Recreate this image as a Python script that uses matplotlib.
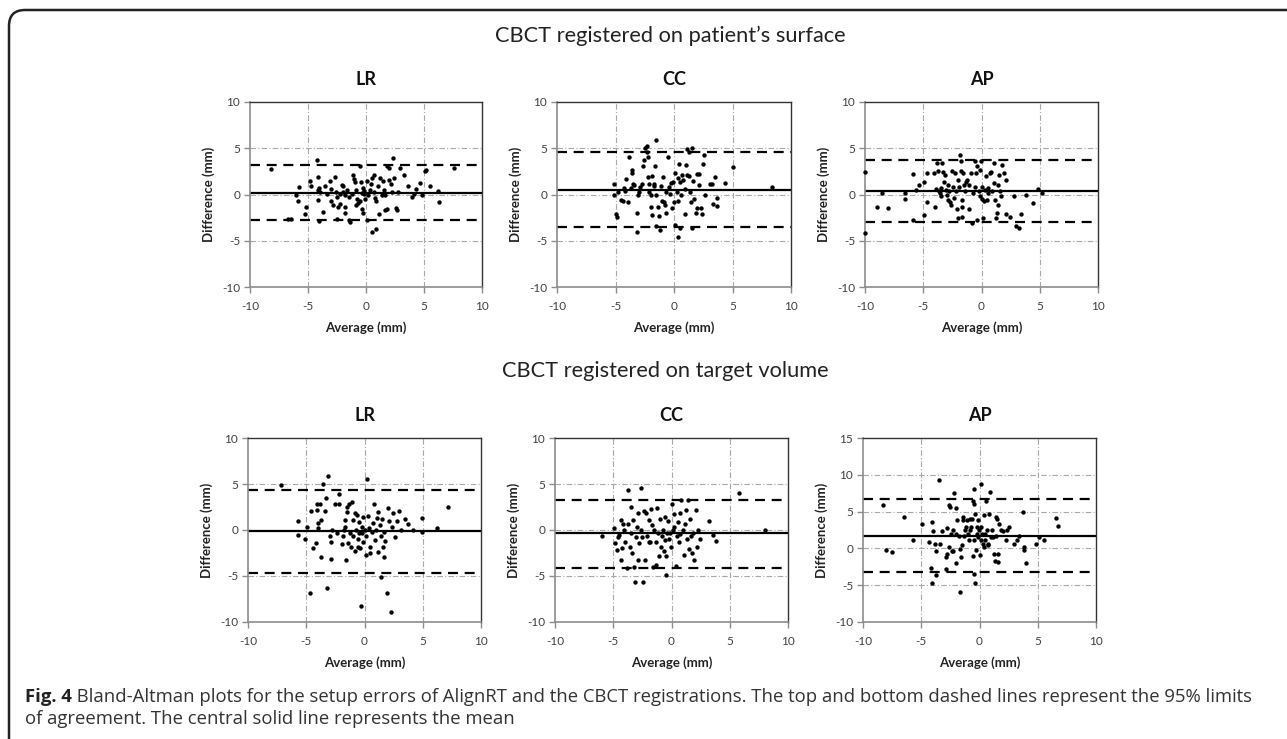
import matplotlib
matplotlib.use("Agg")
import matplotlib.pyplot as plt
from matplotlib.path import Path
from matplotlib.patches import PathPatch
from matplotlib.transforms import Affine2D

# ---- data (Average, Difference) ----
top_lr_x = [-8.2, -6.75, -6.5, -5.8, -6.0, -5.85, -5.2, -5.25, -4.8, -4.75, -4.25, -4.15, -4.05, -4.1, -3.95,
            -4.15, -4.05, -3.75, -3.5, -3.35, -3.1, -3.0, -3.0, -2.65, -2.55, -2.5, -2.85, -2.45, -2.5, -2.2,
            -2.05, -1.95, -1.95, -1.8, -2.25, -1.85, -1.8, -1.5, -1.4, -1.25, -1.1, -1.05, -0.95, -0.9, -0.85,
            -0.75, -0.65, -0.55, -0.55, -0.35, -0.3, -0.2, -0.15, -0.1, -0.35, -0.3, 0.1, 0.5, 0.9, 0.05,
            0.45, 0.65, 0.7, 0.8, 1.0, 0.85, 1.1, 1.2, 1.45, 1.55, 1.65, 1.6, 1.8, 1.85, 2.0,
            2.0, 2.15, 2.25, 2.4, 2.35, 2.6, 2.65, 2.75, 2.95, 3.3, 3.65, 4.0, 4.15, 4.3, 4.65,
            4.8, 5.1, 5.15, 5.5, 6.2, 6.3, 7.55, -1.65, -1.5, -0.45, 0.2, 0.35, 1.35, 0.5]
top_lr_y = [2.75, -2.6, -2.65, 0.8, 0.0, -0.7, -1.35, -2.1, 1.45, 0.95, 3.7, 1.9, 0.7, 0.45, 0.3,
            -0.55, -2.9, -1.85, 0.95, 0.05, 1.45, 0.6, -0.7, 1.9, 0.3, -0.25, -1.1, -1.3, -2.65, 0.05,
            1.0, 0.95, 0.3, 0.0, -1.05, -1.35, -2.05, -2.75, -2.95, 0.05, 2.1, 1.7, 1.3, 0.45, -1.15,
            -0.45, -0.9, -0.65, 3.05, 0.2, 0.7, 0.35, 0.05, -0.45, -1.6, -2.0, -2.8, -4.05, -3.7, 1.5,
            1.15, 2.15, 0.3, -0.35, 0.9, -0.7, -2.1, 1.75, 1.45, 0.45, -0.05, -1.7, -1.6, 3.1, 2.9,
            1.55, 1.1, 0.3, 1.75, 4.0, -1.45, -1.65, 0.3, 2.9, 2.15, 0.95, -0.3, 0.05, 0.6, 1.25,
            0.0, 2.5, 2.6, 0.95, 0.4, -0.85, 2.85, 0.45, -0.25, 1.35, -0.05, 0.45, -0.05, 1.75]

top_cc_x = [-5.1, -5.15, -5.0, -4.9, -4.75, -4.55, -4.4, -4.25, -4.15, -4.1, -3.9, -3.85, -3.65, -3.55, -3.55,
            -3.5, -3.4, -3.15, -3.15, -3.05, -2.95, -2.9, -2.75, -2.65, -2.6, -2.45, -2.35, -2.35, -2.25, -2.2,
            -2.15, -2.1, -2.0, -1.95, -1.9, -1.85, -1.75, -1.7, -1.6, -1.55, -1.5, -1.4, -1.5, -1.2, -1.3,
            -1.1, -1.05, -0.95, -0.85, -0.75, -0.7, -0.65, -0.55, -0.4, -0.3, -0.25, -0.15, -0.1, 0.0, 0.05,
            0.1, 0.25, 0.3, 0.35, 0.35, 0.45, 0.5, 0.55, 0.6, 0.7, 0.8, 0.9, 0.95, 1.05, 1.1,
            1.15, 1.25, 1.3, 1.35, 1.45, 1.55, 1.5, 1.65, 1.75, 1.85, 1.95, 2.0, 2.1, 2.15, 2.3,
            2.4, 2.55, 2.45, 2.65, 3.1, 3.25, 3.3, 3.5, 3.65, 3.65, 4.35, 5.05, 8.35]
top_cc_y = [1.1, 0.0, -2.15, -2.4, 0.3, -0.6, -0.7, 0.65, 0.4, 1.65, -0.85, 4.05, 0.65, 2.35, 2.65,
            1.15, 1.0, -1.95, -4.05, -0.05, 0.3, 0.8, 1.1, 3.05, 3.7, 5.0, 5.25, 4.6, 1.9, 4.1,
            0.3, 1.1, -1.3, -0.05, -2.25, 1.95, 0.9, 1.1, 3.1, 5.85, -0.05, -1.35, -3.4, -3.85, -2.3,
            0.95, -0.65, 1.9, -0.85, -1.1, 0.3, -1.95, 4.1, 0.8, 0.05, 1.25, -1.5, 1.3, -0.85, 2.35,
            -3.25, 0.3, -0.7, 1.8, -4.6, 3.35, -3.6, 1.3, 0.0, 2.1, 1.6, 0.6, -2.15, 3.2, 4.9,
            2.15, 1.95, 4.6, 0.3, -0.85, 5.0, -3.6, 1.45, -0.45, -2.05, 2.25, -1.5, 2.25, 1.0, -1.5,
            -2.15, 4.25, 3.35, -0.05, 1.1, 1.1, -1.0, 1.9, -0.35, -1.25, 1.2, 2.95, 0.8]

top_ap_x = [-10.0, -10.0, -8.95, -8.5, -8.05, -6.55, -6.55, -5.9, -5.9, -5.6, -5.35, -4.95, -4.95, -4.65, -4.65,
            -4.05, -4.0, -3.9, -3.85, -3.75, -3.65, -3.55, -3.5, -3.45, -3.4, -3.3, -3.2, -3.1, -3.05, -3.0,
            -2.9, -2.85, -2.75, -2.7, -2.6, -2.5, -2.45, -2.4, -2.25, -2.2, -2.1, -2.05, -2.0, -1.9, -1.85,
            -1.8, -1.8, -1.7, -1.7, -1.65, -1.55, -1.5, -1.4, -1.3, -1.25, -1.1, -1.05, -0.9, -0.85, -0.7,
            -0.6, -0.55, -0.45, -0.4, -0.35, -0.25, -0.15, -0.1, -0.05, 0.0, 0.05, 0.15, 0.25, 0.3, 0.4,
            0.45, 0.55, 0.6, 0.7, 0.8, 0.9, 1.05, 1.1, 1.15, 1.25, 1.3, 1.4, 1.45, 1.5, 1.6,
            1.7, 1.75, 1.95, 2.1, 2.1, 2.45, 2.8, 2.95, 3.2, 3.35, 3.8, 4.45, 4.85, 5.2]
top_ap_y = [2.4, -4.2, -1.35, 0.2, -1.5, 0.2, -0.5, 2.25, -2.8, 0.5, 1.05, 1.4, -2.2, 2.3, -0.85,
            2.3, -1.3, 0.6, 3.45, 2.5, 0.35, 0.15, 0.7, -0.2, 3.45, 2.4, 1.3, 2.15, 0.5, -0.05,
            -0.6, 1.05, 0.4, -0.85, -1.1, 2.5, 0.85, -0.4, 2.3, 0.35, -1.6, -2.5, 1.6, 0.85, 4.25,
            3.6, 2.5, -0.6, -1.3, -2.4, 2.3, 1.05, 0.35, 1.4, 1.6, 1.05, -1.6, 2.3, -3.1, 0.15,
            0.85, 3.6, 2.3, -2.75, 3.05, 0.35, -0.2, 2.7, 3.6, 0.85, -0.45, -2.55, -0.75, 0.5, 1.95,
            -0.6, 0.15, 0.7, 2.3, 2.4, 0.35, 1.25, 3.4, -0.6, -2.55, -2.05, 1.05, -1.1, 2.15, 0.35,
            -0.2, 3.15, 2.3, 1.6, -2.15, -2.4, -0.15, -3.4, -3.65, -2.15, -0.05, -0.95, 0.6, 0.2]

bot_lr_x = [-7.15, -5.7, -5.7, -5.1, -4.9, -4.65, -4.55, -4.45, -4.2, -4.1, -4.1, -4.0, -3.95, -3.8, -3.75,
            -3.75, -3.55, -3.35, -3.3, -3.2, -3.15, -3.0, -2.85, -2.85, -2.8, -2.5, -2.35, -2.2, -2.15, -1.95,
            -1.85, -1.8, -1.7, -1.65, -1.6, -1.5, -1.5, -1.45, -1.35, -1.25, -1.15, -1.05, -1.0, -0.95, -0.85,
            -0.8, -0.7, -0.65, -0.6, -0.55, -0.5, -0.45, -0.35, -0.3, -0.25, -0.2, -0.15, -0.1, 0.0, 0.1,
            0.15, 0.25, 0.3, 0.35, 0.45, 0.5, 0.65, 0.7, 0.85, 0.9, 1.0, 1.05, 1.15, 1.2, 1.3,
            1.4, 1.45, 1.5, 1.6, 1.65, 1.7, 1.8, 1.95, 2.0, 2.1, 2.25, 2.35, 2.45, 2.6, 2.75,
            3.0, 3.15, 3.45, 3.7, 4.15, 4.9, 4.95, 6.25, 7.2]
bot_lr_y = [4.85, 1.0, -0.55, -1.0, 0.3, -6.8, 2.1, -2.0, -1.45, 2.15, 2.8, 0.8, 0.25, 2.8, 1.05,
            -2.95, 5.0, 2.1, 3.5, -6.35, 5.85, -0.7, -1.25, -3.2, -0.05, 2.8, -0.35, 2.8, 3.95, -1.5,
            -0.7, 0.05, 1.1, 0.35, -3.25, 2.45, 2.0, -1.45, 2.8, -0.35, -1.8, 3.05, 1.1, -0.7, 1.8,
            -2.25, 0.0, 1.6, -1.0, -1.8, 0.9, -0.35, -2.0, -8.25, 0.35, -0.35, 1.45, -1.25, 0.0, -2.7,
            -0.7, 5.5, 1.5, 0.2, -1.8, -2.55, -0.25, 0.8, 2.8, -1.1, 0.0, 1.35, -2.35, 2.0, 0.5,
            -0.7, -5.15, 1.25, -1.8, -2.9, -0.2, -1.15, -6.8, 2.35, 1.0, -8.9, 0.35, 1.8, -0.8, 1.0,
            2.1, 0.0, 1.25, 0.6, 0.0, 1.35, -0.25, 0.25, 2.45]

bot_cc_x = [-6.0, -4.9, -4.85, -4.7, -4.6, -4.5, -4.35, -4.3, -4.25, -4.15, -4.05, -3.95, -3.8, -3.75, -3.7,
            -3.6, -3.5, -3.45, -3.35, -3.3, -3.2, -3.1, -3.05, -2.95, -2.9, -2.85, -2.75, -2.65, -2.6, -2.5,
            -2.45, -2.35, -2.3, -2.2, -2.1, -1.95, -1.9, -1.85, -1.75, -1.7, -1.55, -1.5, -1.35, -1.3, -1.25,
            -1.15, -1.05, -1.0, -0.9, -0.8, -0.7, -0.65, -0.6, -0.55, -0.5, -0.45, -0.35, -0.3, -0.2, -0.1,
            -0.05, 0.05, 0.15, 0.2, 0.25, 0.35, 0.45, 0.55, 0.65, 0.7, 0.75, 0.85, 0.95, 1.05, 1.15,
            1.25, 1.3, 1.45, 1.5, 1.55, 1.65, 1.75, 1.85, 1.95, 2.1, 2.15, 2.25, 2.45, 3.25, 3.55,
            3.85, 5.8, 8.0]
bot_cc_y = [-0.6, 0.2, -1.45, -2.15, -0.8, -0.55, 1.1, -3.25, -2.0, 0.7, 0.0, -1.25, -4.15, 0.65, 4.35,
            -1.9, 2.45, -0.35, -2.45, 1.1, -4.05, -5.6, -0.8, 0.3, 1.8, -3.25, -1.45, 4.6, 0.0, -0.8,
            -5.6, 2.1, -3.25, 1.8, -0.65, 1.1, -1.35, -1.25, 2.25, 0.55, -4.05, 0.0, -3.8, -1.35, 2.35,
            -0.35, -2.8, 1.25, -1.8, -0.7, 0.0, -2.25, 1.45, -1.1, -4.85, -2.8, -0.3, 1.0, -1.0, -0.35,
            -1.8, 2.8, 0.0, 0.35, 1.75, -3.95, -0.7, 0.9, -1.25, 1.8, -0.45, 3.3, 0.0, -2.7, 0.65,
            2.15, -1.0, 3.3, -2.1, 1.25, -0.7, -2.55, -0.35, -3.25, 2.15, -1.8, 0.0, -1.0, 1.0, -0.55,
            -1.15, 4.05, 0.0]

bot_ap_x = [-8.25, -8.05, -7.55, -6.45, -5.75, -4.9, -4.3, -4.15, -4.05, -4.05, -3.95, -3.85, -3.7, -3.7, -3.45,
            -3.4, -3.25, -2.9, -2.9, -2.8, -2.75, -2.65, -2.6, -2.5, -2.45, -2.4, -2.3, -2.25, -2.15, -2.05,
            -2.0, -2.0, -1.9, -1.8, -1.7, -1.65, -1.55, -1.5, -1.45, -1.4, -1.3, -1.25, -1.15, -1.1, -1.0,
            -0.9, -0.85, -0.8, -0.75, -0.65, -0.6, -0.55, -0.5, -0.5, -0.45, -0.45, -0.4, -0.35, -0.3, -0.25,
            -0.25, -0.15, -0.1, -0.05, 0.05, 0.1, 0.1, 0.15, 0.2, 0.3, 0.35, 0.4, 0.45, 0.5, 0.55,
            0.65, 0.7, 0.75, 0.85, 0.9, 0.95, 1.05, 1.15, 1.25, 1.3, 1.4, 1.45, 1.5, 1.55, 1.6,
            1.7, 1.85, 2.05, 2.25, 2.35, 2.5, 3.0, 3.2, 3.35, 3.7, 3.8, 3.85, 4.0, 4.85, 5.15,
            5.55, 6.6, 6.75]
bot_ap_y = [5.9, -0.25, -0.5, 4.25, 1.2, 3.35, 0.85, -2.6, 3.55, -4.7, 2.35, 0.65, -0.35, -3.55, 9.35,
            0.65, 2.35, -1.2, -2.75, -0.7, 2.8, 5.85, 0.2, 5.6, 2.0, -0.35, -0.35, 2.45, 7.55, -2.0,
            5.45, 2.0, 3.8, 1.75, -5.95, -0.05, -1.2, 0.4, 3.8, 4.25, 1.75, 2.45, 2.9, 3.8, 2.0,
            1.1, 4.05, 2.45, 2.9, 4.05, -1.1, 6.5, 6.05, 8.1, -3.45, 1.1, -4.7, 4.7, -0.2, 2.0,
            2.9, 3.8, 1.55, 2.45, -0.95, 1.1, 2.9, 8.7, 2.0, 0.65, 4.5, 0.2, 2.0, 1.1, 6.5,
            2.45, 0.65, 0.4, 4.7, 7.6, 1.55, 2.45, 1.55, -0.7, -1.65, 4.25, 1.65, 4.05, -1.85, -0.7,
            3.25, 2.45, 2.35, 1.1, 2.45, 2.9, 0.65, 1.1, 1.75, 4.95, -0.2, 0.25, -2.0, 0.65, 1.55,
            1.2, 4.15, 3.1]

panel_names = ["LR", "CC", "AP", "LR", "CC", "AP"]
panel_x = [top_lr_x, top_cc_x, top_ap_x, bot_lr_x, bot_cc_x, bot_ap_x]
panel_y = [top_lr_y, top_cc_y, top_ap_y, bot_lr_y, bot_cc_y, bot_ap_y]
panel_mean = [0.15, 0.45, 0.36, -0.11, -0.36, 1.67]
panel_upper = [3.15, 4.57, 3.69, 4.37, 3.29, 6.7]
panel_lower = [-2.8, -3.55, -2.97, -4.62, -4.12, -3.21]
panel_ymax = [10, 10, 10, 10, 10, 15]

section_titles = ["CBCT registered on patient\u2019s surface", "CBCT registered on target volume"]
caption_bold = "Fig. 4"
caption_line1 = (" Bland-Altman plots for the setup errors of AlignRT and the CBCT registrations. "
                 "The top and bottom dashed lines represent the 95% limits")
caption_line2 = "of agreement. The central solid line represents the mean"

W, H = 1287, 739
plt.rcParams['font.family'] = ['Lato', 'DejaVu Sans']
plt.rcParams['axes.unicode_minus'] = False
fig = plt.figure(figsize=(W / 100, H / 100), dpi=100)


def fx(x):
    return x / W


def fy(y):
    return 1 - y / H


# panel boxes in pixels: left, right, top, bottom
boxes = [(250, 482, 102, 287), (557, 791, 102, 287), (865, 1098, 102, 287),
         (248, 481, 438, 622), (555, 788, 438, 622), (863, 1096, 438, 622)]

for i in range(6):
    l, r, t, b = boxes[i]
    ax = fig.add_axes([fx(l), fy(b), (r - l) / W, (b - t) / H])
    ymax = panel_ymax[i]
    ax.set_xlim(-10, 10)
    ax.set_ylim(-10, ymax)
    ax.set_xticks([-10, -5, 0, 5, 10])
    ax.set_yticks(list(range(-10, ymax + 1, 5)))
    for v in [-5, 0, 5]:
        ax.axvline(v, color="#a8a8a8", lw=0.8, ls=(0, (5, 2, 1, 2)), zorder=1)
    for v in range(-5, ymax, 5):
        ax.axhline(v, color="#a8a8a8", lw=0.8, ls=(0, (5, 2, 1, 2)), zorder=1)
    ax.axhline(panel_mean[i], color="black", lw=1.6, zorder=2)
    ax.axhline(panel_upper[i], color="black", lw=1.6, ls=(0, (4.5, 3)), zorder=2)
    ax.axhline(panel_lower[i], color="black", lw=1.6, ls=(0, (4.5, 3)), zorder=2)
    ax.scatter(panel_x[i], panel_y[i], s=10, color="black", linewidths=0, zorder=3, clip_on=False)

    for side in ["top", "right"]:
        ax.spines[side].set_color("#333333")
        ax.spines[side].set_linewidth(1.0)
    for side in ["left", "bottom"]:
        ax.spines[side].set_color("#8c8c8c")
        ax.spines[side].set_linewidth(1.2)
    ax.tick_params(direction="out", length=4, width=1, color="#8c8c8c",
                   labelsize=8.5, labelcolor="#404040", pad=3)
    ax.tick_params(axis="x", pad=6)

    ax.set_xlabel("Average (mm)", fontsize=9.5, fontweight="bold", color="#222222", labelpad=7)
    ax.set_ylabel("Difference (mm)", fontsize=9.5, fontweight="bold", color="#222222", labelpad=5)
    ax.set_title(panel_names[i], fontsize=13, fontweight="bold", color="#111111", pad=12)

fig.text(fx(670), fy(36), section_titles[0], fontsize=15.7, ha="center", va="center", color="#222222")
fig.text(fx(665), fy(371), section_titles[1], fontsize=15.7, ha="center", va="center", color="#222222")

# caption
cap_font = ['Open Sans', 'DejaVu Sans']
cap_size = 13.3
t_bold = fig.text(fx(25), fy(697), caption_bold, fontsize=cap_size, fontweight="bold",
                  family=cap_font, va="center", ha="left", color="#222222")
renderer = fig.canvas.get_renderer()
bb = t_bold.get_window_extent(renderer)
fig.text(bb.x1 / W, fy(697), caption_line1, fontsize=cap_size, family=cap_font,
         va="center", ha="left", color="#333333")
fig.text(fx(25), fy(719), caption_line2, fontsize=cap_size, family=cap_font,
         va="center", ha="left", color="#333333")

# open box with rounded top-left corner
rad = 16
verts = [(9, H), (9, 10 + rad), (9, 10), (9 + rad, 10), (W, 10)]
codes = [Path.MOVETO, Path.LINETO, Path.CURVE3, Path.CURVE3, Path.LINETO]
pix = Affine2D().scale(1 / W, -1 / H).translate(0, 1) + fig.transFigure
fig.patches.append(PathPatch(Path(verts, codes), fill=False, lw=1.8, edgecolor="#222222",
                             transform=pix))

fig.savefig("out.png", dpi=100)
